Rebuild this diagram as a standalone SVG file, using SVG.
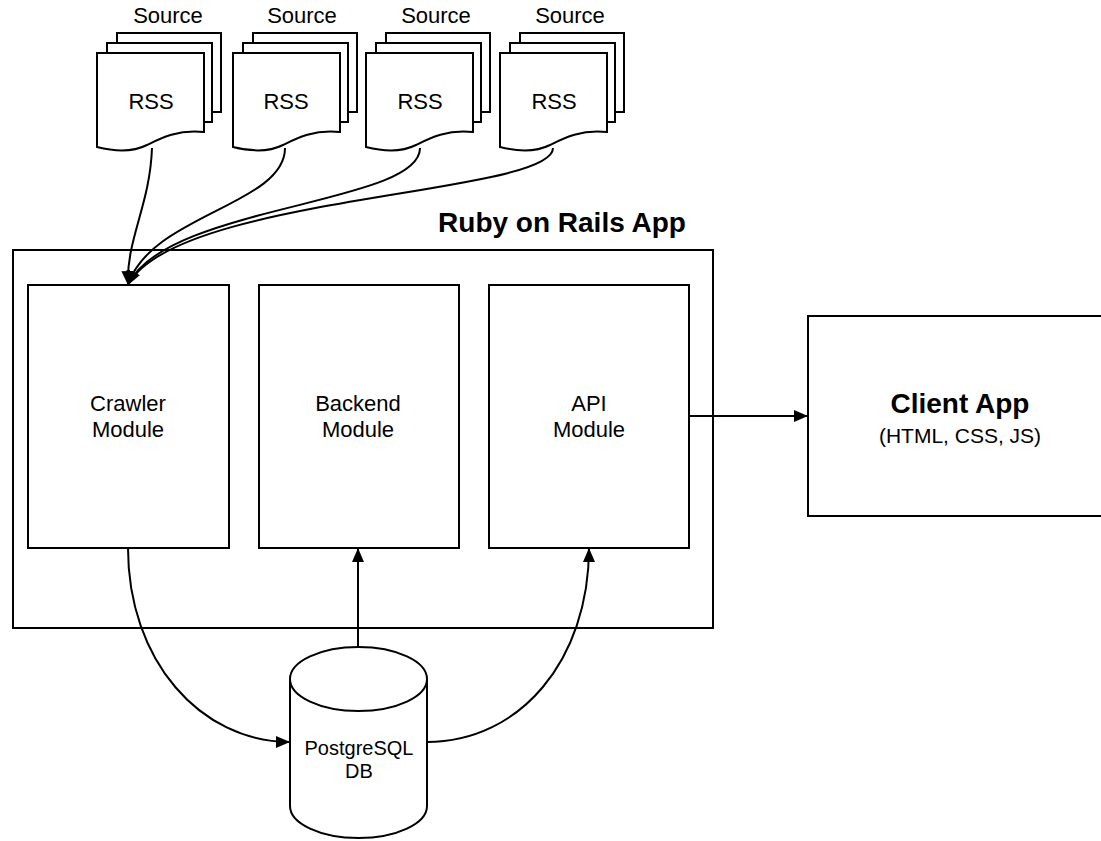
<svg xmlns="http://www.w3.org/2000/svg" width="1101" height="841" viewBox="0 0 1101 841">
<style>
.s{fill:#fff;stroke:#000;stroke-width:2}
.c{fill:none;stroke:#000;stroke-width:2}
.t{font-family:"Liberation Sans",Arial,sans-serif;fill:#000;text-anchor:middle}
.src{font-size:22px}
.rss{font-size:22px}
.mod{font-size:22px}
.b{font-weight:bold}
</style>
<defs>
<marker id="a" viewBox="0 0 14 12" refX="14" refY="6" markerWidth="14" markerHeight="12" markerUnits="userSpaceOnUse" orient="auto">
<path d="M0,0 L14,6 L0,12 z" fill="#000"/>
</marker>
<g id="doc">
<rect class="s" x="20" y="-20" width="104" height="79"/>
<rect class="s" x="10" y="-10" width="105" height="79"/>
<path class="s" d="M0,0 H107 V79 C80,76 62,86 50,92 C38,98 20,99 0,94 Z"/>
</g>
</defs>
<g id="source1">
<text class="t src" x="168" y="23">Source</text>
<use href="#doc" x="97" y="53"/>
<text class="t rss" x="151" y="109">RSS</text>
</g>
<g id="source2">
<text class="t src" x="302" y="23">Source</text>
<use href="#doc" x="233" y="53"/>
<text class="t rss" x="286" y="109">RSS</text>
</g>
<g id="source3">
<text class="t src" x="436" y="23">Source</text>
<use href="#doc" x="366" y="53"/>
<text class="t rss" x="420" y="109">RSS</text>
</g>
<g id="source4">
<text class="t src" x="570" y="23">Source</text>
<use href="#doc" x="500" y="53"/>
<text class="t rss" x="554" y="109">RSS</text>
</g>
<g id="rails">
<rect class="s" x="13" y="250" width="700" height="378"/>
<text class="t b" x="562" y="232" font-size="28">Ruby on Rails App</text>
</g>
<g id="crawler">
<rect class="s" x="28" y="285" width="201" height="263"/>
<text class="t mod" x="128" y="411">Crawler</text>
<text class="t mod" x="128" y="437">Module</text>
</g>
<g id="backend">
<rect class="s" x="259" y="285" width="200" height="263"/>
<text class="t mod" x="358" y="411">Backend</text>
<text class="t mod" x="358" y="437">Module</text>
</g>
<g id="api">
<rect class="s" x="489" y="285" width="200" height="263"/>
<text class="t mod" x="589" y="411">API</text>
<text class="t mod" x="589" y="437">Module</text>
</g>
<g id="client">
<rect class="s" x="808" y="316" width="310" height="200"/>
<text class="t b" x="960" y="413" font-size="28">Client App</text>
<text class="t" x="960" y="443" font-size="21">(HTML, CSS, JS)</text>
</g>
<g id="db">
<path class="s" d="M290,679 V806 A68.5,32 0 0 0 427,806 V679"/>
<ellipse class="s" cx="358.5" cy="679" rx="68.5" ry="32"/>
<text class="t" x="359" y="755" font-size="20">PostgreSQL</text>
<text class="t" x="359" y="778" font-size="20">DB</text>
</g>
<g id="connectors">
<path class="c" d="M152,148 C150,205 126,240 128,285" marker-end="url(#a)"/>
<path class="c" d="M285,148 C285,205 150,215 128,285" marker-end="url(#a)"/>
<path class="c" d="M420,148 C420,205 165,205 128,285" marker-end="url(#a)"/>
<path class="c" d="M553,148 C553,195 175,195 128,285" marker-end="url(#a)"/>
<path class="c" d="M689,416 H808" marker-end="url(#a)"/>
<path class="c" d="M358,647 V548" marker-end="url(#a)"/>
<path class="c" d="M128,548 C128,660 200,742 290,742" marker-end="url(#a)"/>
<path class="c" d="M427,742 C520,742 589,660 589,548" marker-end="url(#a)"/>
</g>
</svg>
